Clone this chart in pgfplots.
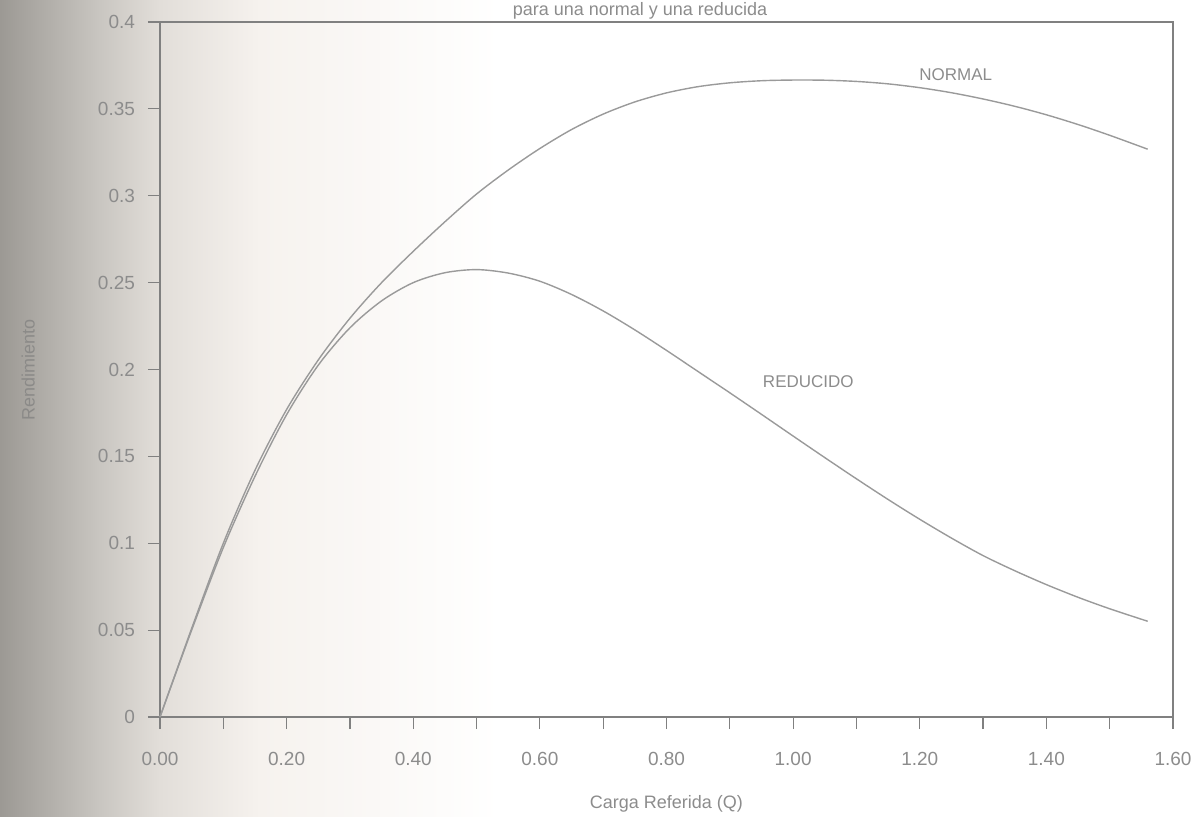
\documentclass[border=0pt]{standalone}
\usepackage{fontspec}
\setmainfont{Liberation Sans}
\usepackage{pgfplots}
\pgfplotsset{compat=1.18}
\definecolor{inkc}{HTML}{8C8C8C}
\definecolor{linec}{HTML}{9A9A9A}
\definecolor{axc}{HTML}{808080}
\definecolor{bgA}{HTML}{9C9994}
\definecolor{bgB}{HTML}{C9C6C1}
\definecolor{bgC}{HTML}{E2DED9}
\definecolor{bgD}{HTML}{F6F2EE}
\begin{document}
\begin{tikzpicture}
\useasboundingbox (-80pt,-49.5pt) rectangle (520.5pt,358.5pt);
% scan shading on the left
\shade[left color=bgA,right color=bgB] (-80pt,-49.5pt) rectangle (-30pt,358.5pt);
\shade[left color=bgB,right color=bgC] (-30.1pt,-49.5pt) rectangle (0pt,358.5pt);
\shade[left color=bgC,right color=bgD] (-0.1pt,-49.5pt) rectangle (50pt,358.5pt);
\shade[left color=bgD,right color=white] (49.9pt,-49.5pt) rectangle (170pt,358.5pt);
\node[font=\fontsize{9}{11}\selectfont, text=inkc, anchor=north, inner sep=1pt] at (240pt,358.5pt) {para una normal y una reducida};
\begin{axis}[
  scale only axis,
  width=506.5pt, height=347.5pt,
  xmin=0, xmax=1.6, ymin=0, ymax=0.4,
  axis line style={axc, line width=0.6pt},
  tick style={axc, line width=0.6pt},
  tick align=outside,
  tick pos=left,
  major tick length=6pt,
  minor tick length=6pt,
  xtick={0,0.2,...,1.6},
  minor xtick={0.1,0.3,...,1.5},
  ytick={0,0.05,...,0.4},
  scaled x ticks=false, scaled y ticks=false,
  xticklabel style={/pgf/number format/.cd, fixed, fixed zerofill, precision=2, assume math mode=true},
  yticklabel style={/pgf/number format/.cd, fixed, precision=2, assume math mode=true},
  ticklabel style={font=\fontsize{9.5}{11}\selectfont, text=inkc},
  xticklabel shift=8pt,
  yticklabel shift=3pt,
  xlabel={Carga Referida (Q)},
  xlabel style={font=\fontsize{9}{11}\selectfont, text=inkc, yshift=-8pt},
  ylabel={Rendimiento},
  every axis y label/.style={at={(axis description cs:-0.13,0.5)}, rotate=90, anchor=center},
  ylabel style={font=\fontsize{9}{11}\selectfont, text=gray!60!bgA},
  clip=false,
]
\addplot[linec, line width=0.7pt, smooth] coordinates {
(0,0) (0.05,0.051) (0.1,0.100) (0.15,0.142) (0.2,0.177) (0.25,0.2055) (0.3,0.2295)
(0.35,0.2500) (0.4,0.2680) (0.45,0.2850) (0.5,0.3010) (0.55,0.3148) (0.6,0.3272)
(0.65,0.3381) (0.7,0.3470) (0.75,0.3540) (0.8,0.3592) (0.85,0.3628) (0.9,0.3650)
(0.95,0.3662) (1.0,0.3666) (1.05,0.3665) (1.1,0.3658) (1.15,0.3644) (1.2,0.3622)
(1.25,0.3593) (1.3,0.3557) (1.35,0.3515) (1.4,0.3466) (1.45,0.3410) (1.5,0.3348)
(1.56,0.3268)};
\addplot[linec, line width=0.7pt, smooth] coordinates {
(0,0) (0.05,0.050) (0.1,0.0975) (0.15,0.1385) (0.2,0.1740) (0.25,0.2025) (0.3,0.2240)
(0.35,0.2395) (0.4,0.2500) (0.45,0.2557) (0.5,0.2575) (0.55,0.2555) (0.6,0.2508)
(0.65,0.2432) (0.7,0.2337) (0.75,0.2228) (0.8,0.2110) (0.85,0.1988) (0.9,0.1866)
(0.95,0.1742) (1.0,0.1617) (1.05,0.1493) (1.1,0.1371) (1.15,0.1252) (1.2,0.1138)
(1.25,0.1030) (1.3,0.0929) (1.35,0.0842) (1.4,0.0762) (1.45,0.0689) (1.5,0.0623)
(1.56,0.0551)};
\node[font=\fontsize{8.5}{10}\selectfont, text=gray!90] at (axis cs:1.257,0.3695) {NORMAL};
\node[font=\fontsize{8.5}{10}\selectfont, text=gray!90] at (axis cs:1.024,0.193) {REDUCIDO};
\end{axis}
\end{tikzpicture}
\end{document}
